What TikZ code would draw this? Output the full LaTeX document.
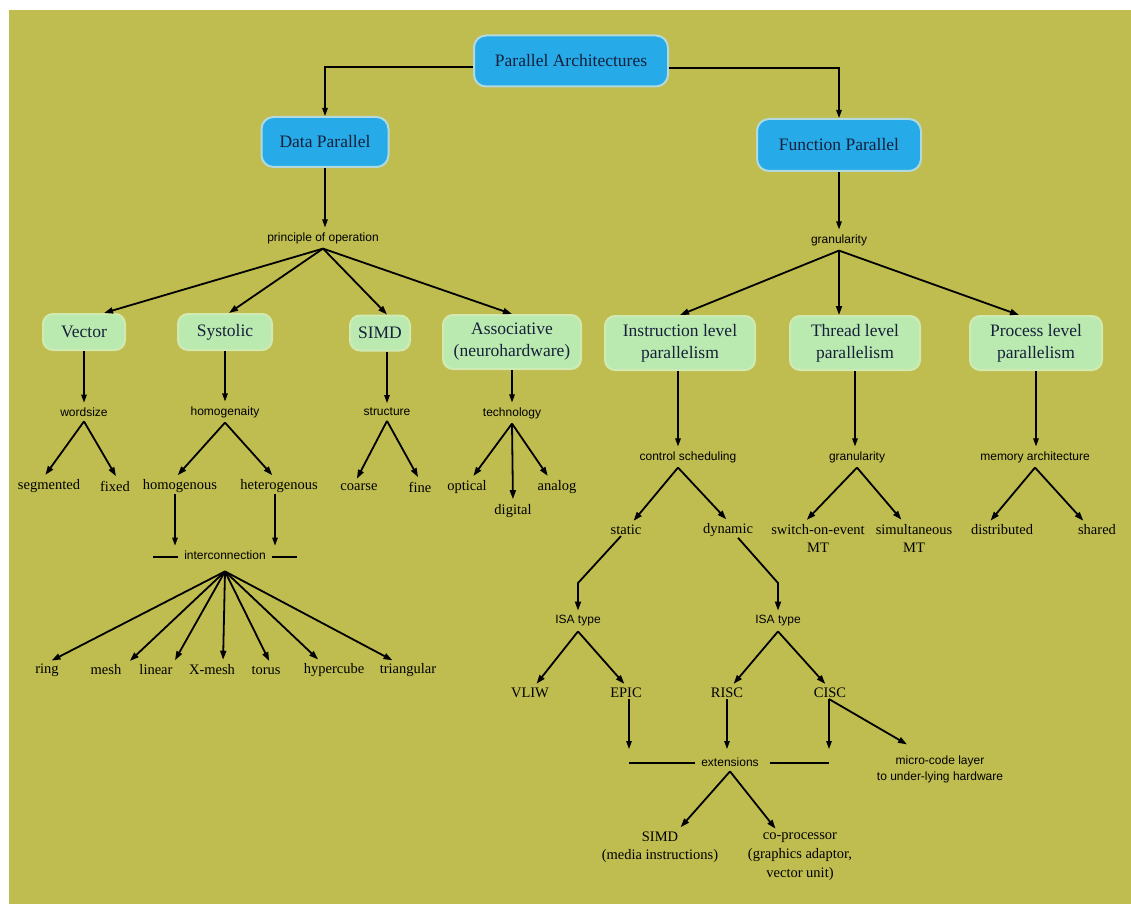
\documentclass[tikz,border=0pt]{standalone}
\usepackage{fontspec}
\setmainfont{Liberation Serif}
\newfontfamily\labelfont{Liberation Sans}
\usetikzlibrary{arrows.meta}

\definecolor{bgolive}{RGB}{191,188,80}
\definecolor{boxblue}{RGB}{38,170,232}
\definecolor{blueedge}{RGB}{178,218,222}
\definecolor{boxgreen}{RGB}{186,234,176}
\definecolor{greenedge}{RGB}{208,234,178}
\definecolor{boxtext}{RGB}{22,32,58}

\begin{document}
\begin{tikzpicture}[x=1pt,y=-1pt,
  bluebox/.style={rectangle, rounded corners=12pt, fill=boxblue, draw=blueedge,
    line width=2pt, text=boxtext, font=\fontsize{17.5}{21}\selectfont, inner sep=0pt},
  greenbox/.style={rectangle, rounded corners=10pt, fill=boxgreen, draw=greenedge,
    line width=2pt, text=boxtext, font=\fontsize{17.5}{22}\selectfont, align=center, inner sep=0pt},
  attr/.style={font=\labelfont\fontsize{12}{15}\selectfont, inner sep=1pt, outer sep=4pt, align=center},
  leaf/.style={font=\fontsize{14.5}{18}\selectfont, inner sep=1pt, align=center},
  arr/.style={-{Triangle[length=8pt,width=5.5pt]}, line width=1.2pt},
  branch/.style={-{Triangle[length=9pt,width=6pt]}, line width=1.8pt},
  toleaf/.style={branch, shorten >=4pt},
  bar/.style={line width=1.3pt}
]
% canvas
\fill[white] (0,0) rectangle (1131,904);
\fill[bgolive] (9,10) rectangle (1131,904);

% top level
\node[bluebox, minimum width=194pt, minimum height=51pt] (pa) at (571,61) {Parallel Architectures};
\node[bluebox, minimum width=127pt, minimum height=50pt] (dp) at (325,142) {Data Parallel};
\node[bluebox, minimum width=164pt, minimum height=52pt] (fp) at (839,145) {Function Parallel};

\node[attr] (poo) at (323,238) {principle of operation};
\node[attr] (gr1) at (839,240) {granularity};

% data parallel classes
\node[greenbox, minimum width=82pt, minimum height=36pt] (vec) at (84,332) {Vector};
\node[greenbox, minimum width=94pt, minimum height=36pt] (sys) at (225,332) {Systolic};
\node[greenbox, minimum width=60pt, minimum height=35pt] (simd) at (380,333) {SIMD};
\node[greenbox, minimum width=138pt, minimum height=54pt] (asc) at (512,342) {Associative\\(neurohardware)};

% function parallel classes
\node[greenbox, minimum width=150pt, minimum height=54pt] (ilp) at (680,343) {Instruction level\\parallelism};
\node[greenbox, minimum width=130pt, minimum height=54pt] (tlp) at (855,343) {Thread level\\parallelism};
\node[greenbox, minimum width=132pt, minimum height=54pt] (plp) at (1036,343) {Process level\\parallelism};

% data parallel sub-trees
\node[attr] (ws) at (84,412) {wordsize};
\node[attr] (hom) at (225,412) {homogenaity};
\node[attr] (str) at (387,412) {structure};
\node[attr] (tech) at (512,413) {technology};

\node[leaf] (seg) at (49,486) {segmented};
\node[leaf] (fix) at (115,486) {fixed};
\node[leaf] (homo) at (180,486) {homogenous};
\node[leaf] (hetero) at (279,486) {heterogenous};
\node[leaf] (coarse) at (359,487) {coarse};
\node[leaf] (fine) at (420,487) {fine};
\node[leaf] (opt) at (467,487) {optical};
\node[leaf] (dig) at (513,511) {digital};
\node[leaf] (ana) at (557,487) {analog};

\node[attr] (ic) at (225,555) {interconnection};

\node[leaf] (ring) at (47,670) {ring};
\node[leaf] (mesh) at (106,670) {mesh};
\node[leaf] (lin) at (156,670) {linear};
\node[leaf] (xm) at (212,670) {X-mesh};
\node[leaf] (tor) at (266,670) {torus};
\node[leaf] (hyp) at (334,670) {hypercube};
\node[leaf] (tri) at (408,670) {triangular};

% function parallel sub-trees
\node[attr] (cs) at (688,457) {control scheduling};
\node[attr] (gr2) at (857,457) {granularity};
\node[attr] (ma) at (1035,457) {memory architecture};

\node[leaf] (st) at (626,530) {static};
\node[leaf] (dyn) at (728,530) {dynamic};
\node[leaf] (soe) at (818,538) {switch-on-event\\MT};
\node[leaf] (sim) at (914,538) {simultaneous\\MT};
\node[leaf] (dist) at (1002,530) {distributed};
\node[leaf] (sh) at (1097,530) {shared};

\node[attr] (isaL) at (578,621) {ISA type};
\node[attr] (isaR) at (778,621) {ISA type};

\node[leaf] (vliw) at (530,693) {VLIW};
\node[leaf] (epic) at (626,693) {EPIC};
\node[leaf] (risc) at (727,693) {RISC};
\node[leaf] (cisc) at (830,693) {CISC};

\node[attr] (ext) at (730,762) {extensions};
\node[attr, font=\labelfont\fontsize{12}{16}\selectfont] (mc) at (940,769) {micro-code layer\\to under-lying hardware};

\node[leaf, font=\fontsize{14.5}{18.5}\selectfont] (simd2) at (660,847) {SIMD\\(media instructions)};
\node[leaf, font=\fontsize{14.5}{19}\selectfont] (cop) at (800,857) {co-processor\\(graphics adaptor,\\vector unit)};

% ---- connectors ----
\draw[arr] ([yshift=-6pt]pa.west) -| (dp.north);
\draw[arr] ([yshift=-7pt]pa.east) -| (fp.north);
\draw[arr] (dp.south) -- (dp.south |- poo.north);
\draw[arr] (fp.south) -- (fp.south |- gr1.north);

\draw[branch] (poo.south) -- ([xshift=20pt]vec.north);
\draw[branch] (poo.south) -- ([xshift=4pt]sys.north);
\draw[branch] (poo.south) -- ([xshift=7pt]simd.north);
\draw[branch] (poo.south) -- (asc.north);

\draw[branch] (gr1.south) -- (ilp.north);
\draw[branch] (gr1.south) -- ([xshift=-16pt]tlp.north);
\draw[branch] (gr1.south) -- ([xshift=-17pt]plp.north);

\draw[arr] (vec.south) -- (vec.south |- ws.north);
\draw[arr] (sys.south) -- (sys.south |- hom.north);
\draw[arr] (simd.south -| str.north) -- (str.north);
\draw[arr] (asc.south) -- (asc.south |- tech.north);

\draw[toleaf] (ws.south) -- ([xshift=-6pt]seg.north);
\draw[toleaf] (ws.south) -- ([xshift=3pt]fix.north);
\draw[toleaf] (hom.south) -- ([xshift=-5pt]homo.north);
\draw[toleaf] (hom.south) -- ([xshift=-4pt]hetero.north);
\draw[toleaf] (str.south) -- ([xshift=-4pt]coarse.north);
\draw[toleaf] (str.south) -- (fine.north);
\draw[toleaf] (tech.south) -- ([xshift=4pt]opt.north);
\draw[toleaf] (tech.south) -- (dig.north);
\draw[toleaf] (tech.south) -- ([xshift=-7pt]ana.north);

\coordinate (homoDrop) at ([xshift=-5pt]homo.south);
\coordinate (heteroDrop) at ([xshift=-4pt]hetero.south);
\draw[arr] (homoDrop) -- (homoDrop |- ic.north);
\draw[arr] (heteroDrop) -- (heteroDrop |- ic.north);
\draw[bar] ([xshift=-1pt,yshift=-2pt]ic.west) -- ++(-25pt,0pt);
\draw[bar] ([xshift=1pt,yshift=-2pt]ic.east) -- ++(25pt,0pt);

\coordinate (icA) at ([yshift=-7pt]ic.south);
\draw[toleaf] (icA) -- ([xshift=1pt]ring.north);
\draw[toleaf] (icA) -- ([xshift=21pt]mesh.north);
\draw[toleaf] (icA) -- ([xshift=17pt]lin.north);
\draw[toleaf] (icA) -- ([xshift=11pt]xm.north);
\draw[toleaf] (icA) -- ([xshift=5pt]tor.north);
\draw[toleaf] (icA) -- ([xshift=-13pt]hyp.north);
\draw[toleaf] (icA) -- ([xshift=-12pt]tri.north);

% instruction level parallelism
\coordinate (csA) at ([xshift=-10pt]cs.south);
\draw[arr] (csA |- ilp.south) -- (csA |- cs.north);
\draw[toleaf] (csA) -- ([xshift=5pt]st.north);
\draw[toleaf] (csA) -- ([xshift=1pt]dyn.north);

\draw[arr] (tlp.south) -- (tlp.south |- gr2.north);
\draw[toleaf] (gr2.south) -- ([xshift=-14pt]soe.north);
\draw[toleaf] (gr2.south) -- ([xshift=-10pt]sim.north);

\draw[arr] (plp.south) -- (plp.south |- ma.north);
\draw[toleaf] (ma.south) -- ([xshift=-14pt]dist.north);
\draw[toleaf] (ma.south) -- ([xshift=-11pt]sh.north);

\coordinate (stBend) at (578,583);
\coordinate (dynBend) at (778,583);
\draw[branch] ([xshift=-5pt]st.south) -- (stBend) -- (isaL.north);
\draw[branch] ([xshift=10pt]dyn.south) -- (dynBend) -- (isaR.north);

\draw[toleaf] (isaL.south) -- ([xshift=4pt]vliw.north);
\draw[toleaf] (isaL.south) -- ([xshift=1pt]epic.north);
\draw[toleaf] (isaR.south) -- ([xshift=4pt]risc.north);
\draw[toleaf] (isaR.south) -- ([xshift=-2pt]cisc.north);

% extensions
\coordinate (epicDrop) at ([xshift=3pt]epic.south);
\coordinate (ciscDrop) at ([xshift=-1pt]cisc.south);
\coordinate (extArr) at ([yshift=13pt]ext.west);
\coordinate (extBar) at ([yshift=-1pt]ext.west);
\draw[arr] (epicDrop) -- (epicDrop |- extArr);
\draw[arr] (risc.south) -- (risc.south |- extArr);
\draw[arr] (ciscDrop) -- (ciscDrop |- extArr);
\draw[bar] ([xshift=-1pt]extBar) -- (epicDrop |- extBar);
\draw[bar] ([xshift=6pt,yshift=-1pt]ext.east) -- (ciscDrop |- extBar);
\draw[branch] (ciscDrop) -- ([xshift=-33pt,yshift=6pt]mc.north);

\draw[toleaf] (ext.south) -- ([xshift=18pt]simd2.north);
\draw[toleaf] (ext.south) -- ([xshift=-22pt]cop.north);
\end{tikzpicture}
\end{document}
